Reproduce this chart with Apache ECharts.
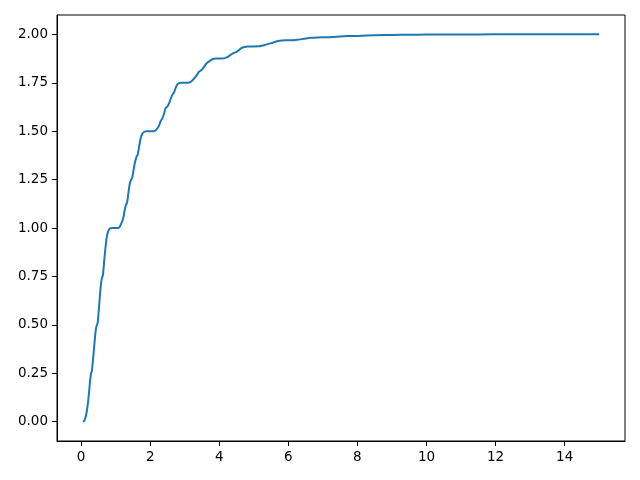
<!DOCTYPE html>
<html>
<head>
<meta charset="utf-8">
<script src="https://cdn.jsdelivr.net/npm/echarts@6/dist/echarts.min.js"></script>
<style>html,body{margin:0;padding:0;background:#fff}#c{width:640px;height:480px}</style>
</head>
<body>
<div id="c"></div>
<script>
const xValues = [0.05,0.08,0.11,0.14,0.17,0.20,0.23,0.26,0.29,0.31,0.34,0.37,0.40,0.43,0.46,0.48,0.51,0.54,0.57,0.60,0.63,0.66,0.69,0.72,0.75,0.79,0.84,0.9,1.0,1.08,1.13,1.18,1.22,1.26,1.30,1.33,1.37,1.41,1.45,1.48,1.52,1.56,1.61,1.64,1.68,1.72,1.77,1.83,1.9,2.0,2.1,2.16,2.21,2.26,2.31,2.35,2.40,2.45,2.50,2.55,2.60,2.65,2.69,2.73,2.78,2.84,2.9,3.0,3.1,3.16,3.22,3.29,3.35,3.42,3.48,3.55,3.62,3.68,3.75,3.82,3.9,4.0,4.12,4.2,4.28,4.36,4.43,4.5,4.58,4.65,4.73,4.82,5.0,5.15,5.25,5.35,5.45,5.55,5.65,5.75,5.9,6.1,6.25,6.45,6.65,6.85,7.1,7.4,7.7,8.0,8.5,9.0,9.5,10,11,12,13,14,15];
const yValues = [0.000,0.002,0.01,0.03,0.06,0.10,0.15,0.21,0.25,0.26,0.31,0.37,0.43,0.48,0.50,0.51,0.57,0.64,0.70,0.74,0.755,0.81,0.87,0.92,0.96,0.985,0.998,1.0,1.0,1.0,1.01,1.03,1.05,1.09,1.12,1.13,1.18,1.23,1.25,1.26,1.30,1.34,1.37,1.38,1.42,1.46,1.485,1.497,1.5,1.5,1.5,1.505,1.515,1.53,1.555,1.565,1.59,1.62,1.628,1.645,1.67,1.69,1.70,1.72,1.74,1.748,1.75,1.75,1.75,1.753,1.762,1.775,1.79,1.808,1.815,1.83,1.848,1.857,1.866,1.873,1.875,1.875,1.876,1.88,1.888,1.898,1.905,1.91,1.92,1.93,1.935,1.9375,1.9375,1.938,1.942,1.947,1.952,1.957,1.963,1.967,1.969,1.969,1.972,1.977,1.982,1.984,1.985,1.988,1.991,1.992,1.995,1.997,1.998,1.999,1.9995,2.0,2.0,2.0,2.0];
const xTicks = [0,2,4,6,8,10,12,14];
const yTicks = [0,0.25,0.5,0.75,1.0,1.25,1.5,1.75,2.0];

const chart = echarts.init(document.getElementById('c'), null, {renderer:'canvas'});
const font = 'DejaVu Sans';
chart.setOption({
  animation:false,
  grid:{left:57,right:15,top:15,bottom:39,show:true,borderColor:'#000',borderWidth:1,backgroundColor:'transparent'},
  xAxis:{type:'value',min:-0.6975,max:15.7475,
    axisLine:{show:true,onZero:false,lineStyle:{color:'#000',width:1}},
    axisTick:{show:true,length:5,inside:false,customValues:xTicks,lineStyle:{color:'#000'}},
    axisLabel:{customValues:xTicks,color:'#000',fontFamily:font,fontSize:13.5,margin:9,formatter:v=>String(v)},
    splitLine:{show:false}},
  yAxis:{type:'value',min:-0.1,max:2.1,
    axisLine:{show:true,onZero:false,lineStyle:{color:'#000',width:1}},
    axisTick:{show:true,length:5,inside:false,customValues:yTicks,lineStyle:{color:'#000'}},
    axisLabel:{customValues:yTicks,color:'#000',fontFamily:font,fontSize:13.5,margin:9,formatter:v=>v.toFixed(2)},
    splitLine:{show:false}},
  series:[{type:'line',data:xValues.map((x,i)=>[x,yValues[i]]),showSymbol:false,smooth:0.3,
    lineStyle:{color:'#1f77b4',width:2},itemStyle:{color:'#1f77b4'}}]
});
</script>
</body>
</html>
